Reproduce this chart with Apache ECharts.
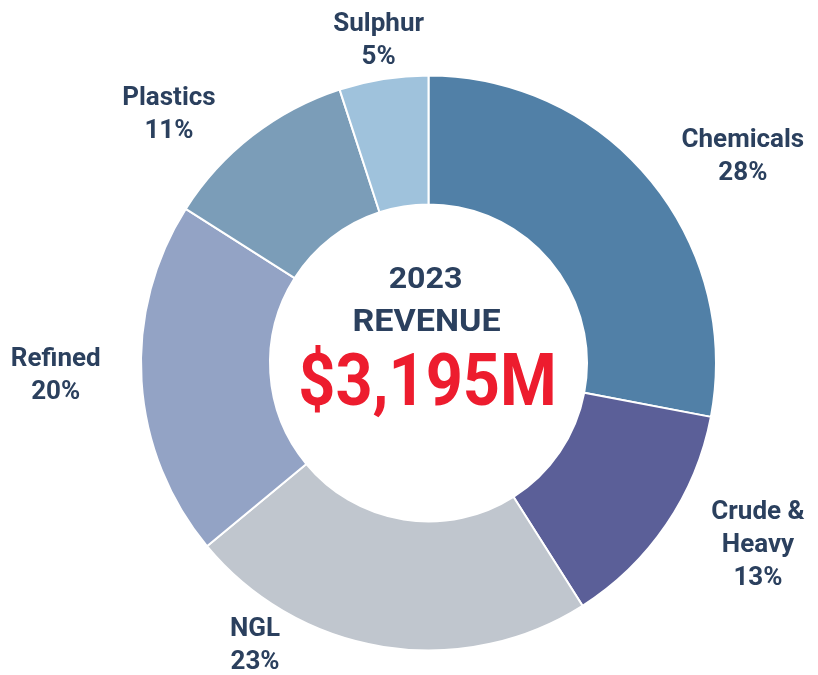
<!DOCTYPE html>
<html>
<head>
<meta charset="utf-8">
<script src="https://cdn.jsdelivr.net/npm/echarts@6/dist/echarts.min.js"></script>
<style>
  html, body { margin: 0; padding: 0; background: #fff; }
  #main { width: 818px; height: 675px; }
</style>
</head>
<body>
<div id="main"></div>
<script>
// 2023 revenue split by product
const categories = ['Chemicals', 'Crude &\nHeavy', 'NGL', 'Refined', 'Plastics', 'Sulphur']
const shares = [28, 13, 23, 20, 11, 5]
const totalLabel = '$3,195M'
const yearLabel = '2023'
const titleLabel = 'REVENUE'

const colors = ['#5180a7', '#5b5f98', '#c0c6ce', '#93a3c5', '#7b9db8', '#9fc2dc']
const textColor = '#2b405e'

// ring geometry
const cx = 428.5
const cy = 363
// label tweaks: angle shift from slice middle (deg) and distance from centre (px)
const labelShift = [-6.4, 5.2, -22.5, -1.6, 8.5, -0.2]
const labelDist = [375.7, 376.7, 332, 373, 359, 326]

function midAngle(i) {
  let total = 0
  let before = 0
  for (let n = 0; n < shares.length; n++) {
    total += shares[n]
    if (n < i) before += shares[n]
  }
  return 90 - (before + shares[i] / 2) / total * 360
}

let myChart = echarts.init(document.getElementById('main'))
let option = {
  animation: false,
  color: colors,
  graphic: [
    {
      type: 'text', x: cx - 3, y: 280, scaleX: 1.07,
      style: { text: yearLabel, fill: textColor, font: 'bold 30px Roboto', align: 'center', verticalAlign: 'middle' }
    },
    {
      type: 'text', x: cx - 2, y: 323, scaleX: 1.1,
      style: { text: titleLabel, fill: textColor, font: 'bold 31px Roboto', align: 'center', verticalAlign: 'middle' }
    },
    {
      type: 'text', x: cx - 1, y: 387, scaleX: 0.9,
      style: { text: totalLabel, fill: '#ed1c2e', font: 'bold 72px Roboto', align: 'center', verticalAlign: 'middle' }
    }
  ],
  series: [
    {
      type: 'pie',
      center: [cx, cy],
      radius: [158.5, 287.5],
      startAngle: 90,
      clockwise: true,
      avoidLabelOverlap: false,
      itemStyle: {
        borderColor: '#fff',
        borderWidth: 2
      },
      label: {
        show: true,
        position: 'outside',
        formatter: function (p) {
          return '{n|' + p.name + '}\n{n|' + p.value + '%}'
        },
        rich: {
          n: {
            align: 'center',
            fontFamily: 'Roboto',
            fontWeight: 'bold',
            fontSize: 26,
            lineHeight: 33,
            color: textColor
          }
        }
      },
      labelLine: { show: false },
      labelLayout: function (p) {
        const i = p.dataIndex
        const rad = (midAngle(i) + labelShift[i]) * Math.PI / 180
        return {
          x: cx + labelDist[i] * Math.cos(rad),
          y: cy - labelDist[i] * Math.sin(rad),
          align: 'center',
          verticalAlign: 'middle'
        }
      },
      emphasis: { disabled: true },
      data: categories.map(function (name, i) {
        return { name: name, value: shares[i] }
      })
    }
  ]
}
myChart.setOption(option)
</script>
</body>
</html>
